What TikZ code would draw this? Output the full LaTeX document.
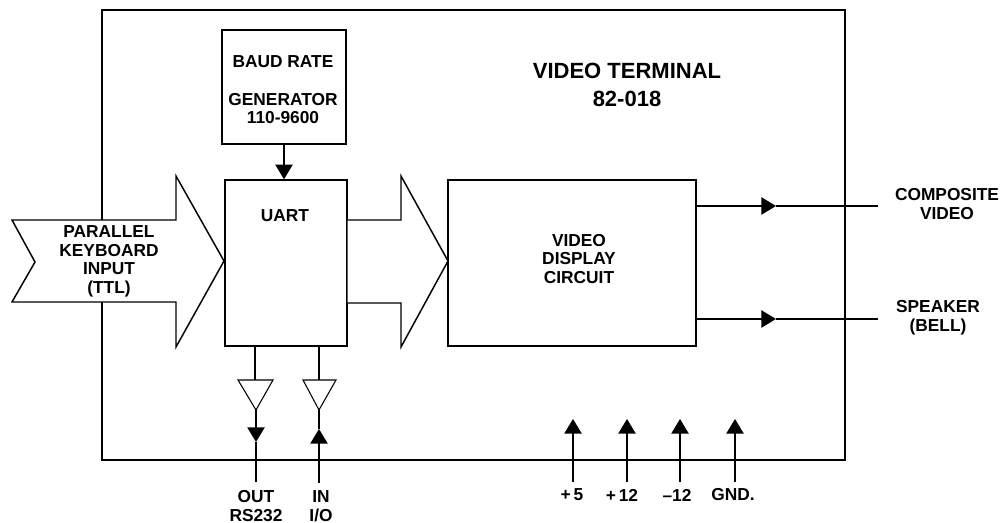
\documentclass[tikz,border=0pt]{standalone}
\usepackage{fontspec}
\setmainfont{Liberation Sans}
\usetikzlibrary{arrows.meta, positioning}

\tikzset{
  lbl/.style={font=\fontsize{13}{13.9}\selectfont\bfseries, align=center, inner sep=0pt},
  box/.style={draw, line width=1.1pt, fill=white, inner sep=0pt},
  bus/.style={draw, line width=1.1pt, fill=white, line join=miter},
  wire/.style={line width=1.1pt},
  tip/.style={line width=1.1pt, -{Triangle[length=11pt, width=13pt]}},
  buffer/.style={draw, line width=0.8pt, fill=white},
}

\begin{document}
\begin{tikzpicture}[x=0.75pt, y=-0.75pt]
  \useasboundingbox (0,0) rectangle (1003,523);

  % Outer frame
  \node[box, fill=none, minimum width=557pt, minimum height=337.5pt] (frame) at (473.5,235) {};

  % Blocks
  \node[box, minimum width=93pt, minimum height=85.5pt] (baud) at (284,87) {};
  \node[box, minimum width=91.5pt, minimum height=124.5pt] (uart) at (286,263) {};
  \node[box, minimum width=186pt, minimum height=124.5pt] (display) at (572,263) {};

  % Bus arrows
  \draw[bus] (12,220) -- (176,220) -- (176,176) -- (224,261) -- (176,347) -- (176,302) -- (12,302) -- (35,262) -- cycle;
  \draw[bus] (uart.east |- 0,220) -- (401,220) -- (401,176) -- (448,261) -- (401,347) -- (401,303) -- (uart.east |- 0,303);

  % Block text
  \node[lbl] (baudtxt) at (283,62) {BAUD RATE};
  \node[lbl] (gentxt) at (283,108.5) {GENERATOR\\110-9600};
  \node[lbl] (uarttxt) at (285,216) {UART};
  \node[lbl] (disptxt) at (579,259) {VIDEO\\DISPLAY\\CIRCUIT};
  \node[lbl] (kbd) at (109,261.5) {PARALLEL\\KEYBOARD\\INPUT\\(TTL)};
  \node[lbl, font=\fontsize{16.5}{21}\selectfont\bfseries] (title) at (627,85) {VIDEO TERMINAL\\82-018};

  % Baud clock
  \coordinate (bclk) at (284,144);
  \draw[tip] (bclk |- baud.south) -- (bclk |- uart.north);

  % Outputs
  \coordinate (cvout) at (878,206);
  \coordinate (spout) at (878,319);
  \coordinate (cvmid) at (776,206);
  \coordinate (spmid) at (776,319);
  \draw[tip] (display.east |- cvout) -- (cvmid);
  \draw[wire] (cvmid) -- (cvout);
  \draw[tip] (display.east |- spout) -- (spmid);
  \draw[wire] (spmid) -- (spout);
  \node[lbl] (cvtxt) at (947,204) {COMPOSITE\\VIDEO};
  \node[lbl] (sptxt) at (938,318) {SPEAKER\\(BELL)};

  % Serial buffers
  \draw[buffer] (238,380) -- (273,380) -- (256,410) -- cycle;
  \draw[buffer] (303,380) -- (336,380) -- (319,410) -- cycle;
  \coordinate (outtop) at (255,380);
  \coordinate (intop) at (319,380);
  \coordinate (outmid) at (256,442);
  \coordinate (inmid) at (319,429);
  \coordinate (outend) at (256,482);
  \coordinate (inend) at (319,483);
  \draw[wire] (outtop |- uart.south) -- (outtop);
  \draw[wire] (intop |- uart.south) -- (intop);
  \draw[tip] (256,410) -- (outmid);
  \draw[wire] (outmid) -- (outend);
  \draw[tip] (inend) -- (inmid);
  \draw[wire] (inmid) -- (319,410);
  \node[lbl] (outtxt) at (256,506) {OUT\\RS232};
  \node[lbl] (intxt) at (321,506) {IN\\I/O};

  % Power pins
  \foreach \name/\px/\lx/\txt in {pfive/573/572/+\,5, ptwelve/627/622/+\,12, mtwelve/680/677/--12, gnd/735/733/GND.} {
    \coordinate (\name end) at (\px,482);
    \coordinate (\name top) at (\px,419);
    \draw[tip] (\name end) -- (\name top);
    \node[lbl] (\name txt) at (\lx,495) {\txt};
  }
\end{tikzpicture}
\end{document}
